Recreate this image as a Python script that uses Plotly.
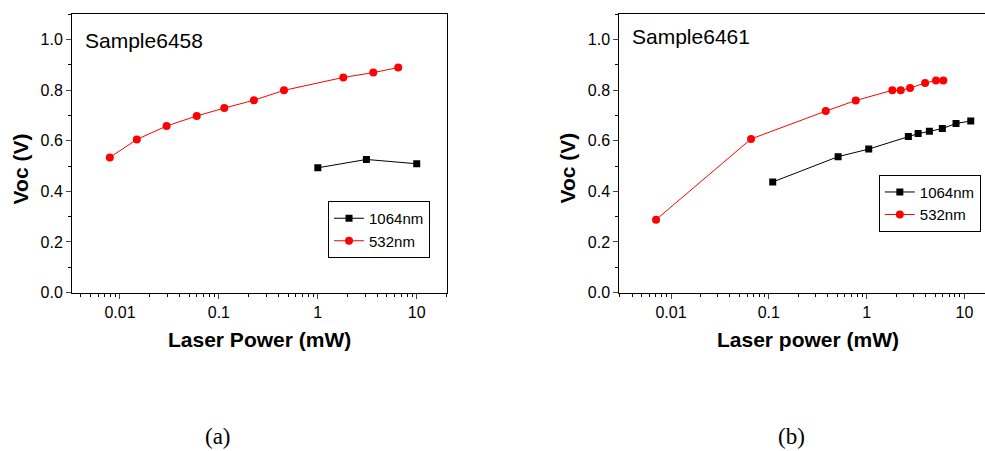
import plotly.graph_objects as go

# Sample6458 (panel a)
a_1064_power = [1.0, 3.1, 10.0]
a_1064_voc = [0.493, 0.526, 0.509]
a_532_power = [0.0079, 0.0148, 0.0296, 0.0597, 0.1135, 0.226, 0.455, 1.81, 3.64, 6.5]
a_532_voc = [0.534, 0.605, 0.658, 0.698, 0.729, 0.760, 0.799, 0.850, 0.869, 0.889]

# Sample6461 (panel b)
b_1064_power = [0.1096, 0.511, 1.05, 2.67, 3.36, 4.38, 5.94, 8.2, 11.6]
b_1064_voc = [0.437, 0.537, 0.567, 0.617, 0.628, 0.637, 0.648, 0.668, 0.678]
b_532_power = [0.00703, 0.0658, 0.382, 0.774, 1.83, 2.23, 2.78, 3.96, 5.12, 6.08]
b_532_voc = [0.288, 0.607, 0.717, 0.759, 0.799, 0.799, 0.808, 0.828, 0.838, 0.838]

x_ticks = [0.01, 0.1, 1, 10]
x_ticktext = ["0.01", "0.1", "1", "10"]

FONT = "Liberation Sans, Arial, sans-serif"
SERIF = "Liberation Serif, Times New Roman, serif"

fig = go.Figure()


def add_pair(p1064, v1064, p532, v532, xa, ya, legend):
    fig.add_trace(go.Scatter(x=p1064, y=v1064, name="1064nm", mode="lines+markers",
                             line=dict(color="black", width=1),
                             marker=dict(symbol="square", size=7, color="black"),
                             xaxis=xa, yaxis=ya, legend=legend))
    fig.add_trace(go.Scatter(x=p532, y=v532, name="532nm", mode="lines+markers",
                             line=dict(color="red", width=1),
                             marker=dict(symbol="circle", size=8, color="red"),
                             xaxis=xa, yaxis=ya, legend=legend))


add_pair(a_1064_power, a_1064_voc, a_532_power, a_532_voc, "x", "y", "legend")
add_pair(b_1064_power, b_1064_voc, b_532_power, b_532_voc, "x2", "y2", "legend2")

xcommon = dict(type="log", tickvals=x_ticks, ticktext=x_ticktext, ticks="outside", ticklen=5,
               tickwidth=1, showline=True, linecolor="black", linewidth=1, showgrid=False,
               zeroline=False, tickfont=dict(family=FONT, size=16, color="black"),
               minor=dict(ticks="outside", ticklen=3, dtick="D1", tickcolor="black", showgrid=False))
ycommon = dict(range=[0, 1.1], dtick=0.2, tickformat=".1f", ticks="outside", ticklen=5,
               tickwidth=1, showline=True, linecolor="black", linewidth=1, showgrid=False,
               zeroline=False, tickfont=dict(family=FONT, size=16, color="black"),
               minor=dict(ticks="outside", ticklen=3, dtick=0.1, tickcolor="black", showgrid=False))

legcommon = dict(bgcolor="white", bordercolor="black", borderwidth=1,
                 font=dict(family=FONT, size=15, color="black"),
                 xanchor="center", yanchor="middle", tracegroupgap=0, itemwidth=30)

fig.update_layout(
    width=985, height=451,
    margin=dict(l=0, r=0, t=0, b=0),
    paper_bgcolor="white", plot_bgcolor="white",
    xaxis=dict(xcommon, domain=[0.0731, 0.4538], range=[-2.485, 1.306], anchor="y", mirror=True),
    yaxis=dict(ycommon, domain=[0.338, 0.968], anchor="x", mirror=True),
    xaxis2=dict(xcommon, domain=[0.6287, 1.0], range=[-2.529, 1.21], anchor="y2", mirror=True),
    yaxis2=dict(ycommon, domain=[0.338, 0.968], anchor="x2"),
    legend=dict(legcommon, x=0.3848, y=0.4808),
    legend2=dict(legcommon, x=0.944, y=0.5402),
)

ann = [
    dict(text="Sample6458", x=0.084, y=0.9093, xanchor="left", size=21, family=FONT),
    dict(text="Sample6461", x=0.6396, y=0.9168, xanchor="left", size=21, family=FONT),
    dict(text="<b>Laser Power (mW)</b>", x=0.263, y=0.2314, xanchor="center", size=21, family=FONT),
    dict(text="<b>Laser power (mW)</b>", x=0.820, y=0.2314, xanchor="center", size=21, family=FONT),
    dict(text="(a)", x=0.2213, y=0.0125, xanchor="center", size=23, family=SERIF),
    dict(text="(b)", x=0.804, y=0.0125, xanchor="center", size=23, family=SERIF),
]
for a in ann:
    fig.add_annotation(text=a["text"], x=a["x"], y=a["y"], xref="paper", yref="paper",
                       xanchor=a["xanchor"], yanchor="middle", showarrow=False,
                       font=dict(family=a["family"], size=a["size"], color="black"))

for xc, yc in [(0.0203, 0.619), (0.5766, 0.621)]:
    fig.add_annotation(text="<b>Voc (V)</b>", x=xc, y=yc, xref="paper", yref="paper",
                       textangle=-90, showarrow=False, xanchor="center", yanchor="middle",
                       font=dict(family=FONT, size=21, color="black"))

# pin the graph to the top-left corner of the page, no body margin or scrollbars
page_js = ("document.body.style.margin='0px';"
           "document.body.style.overflow='hidden';"
           "document.documentElement.style.overflow='hidden';"
           "var gd=document.getElementById('{plot_id}');"
           "gd.style.position='fixed';gd.style.top='0px';gd.style.left='0px';")
fig.write_html("out.html", config={"displayModeBar": False}, post_script=page_js)
